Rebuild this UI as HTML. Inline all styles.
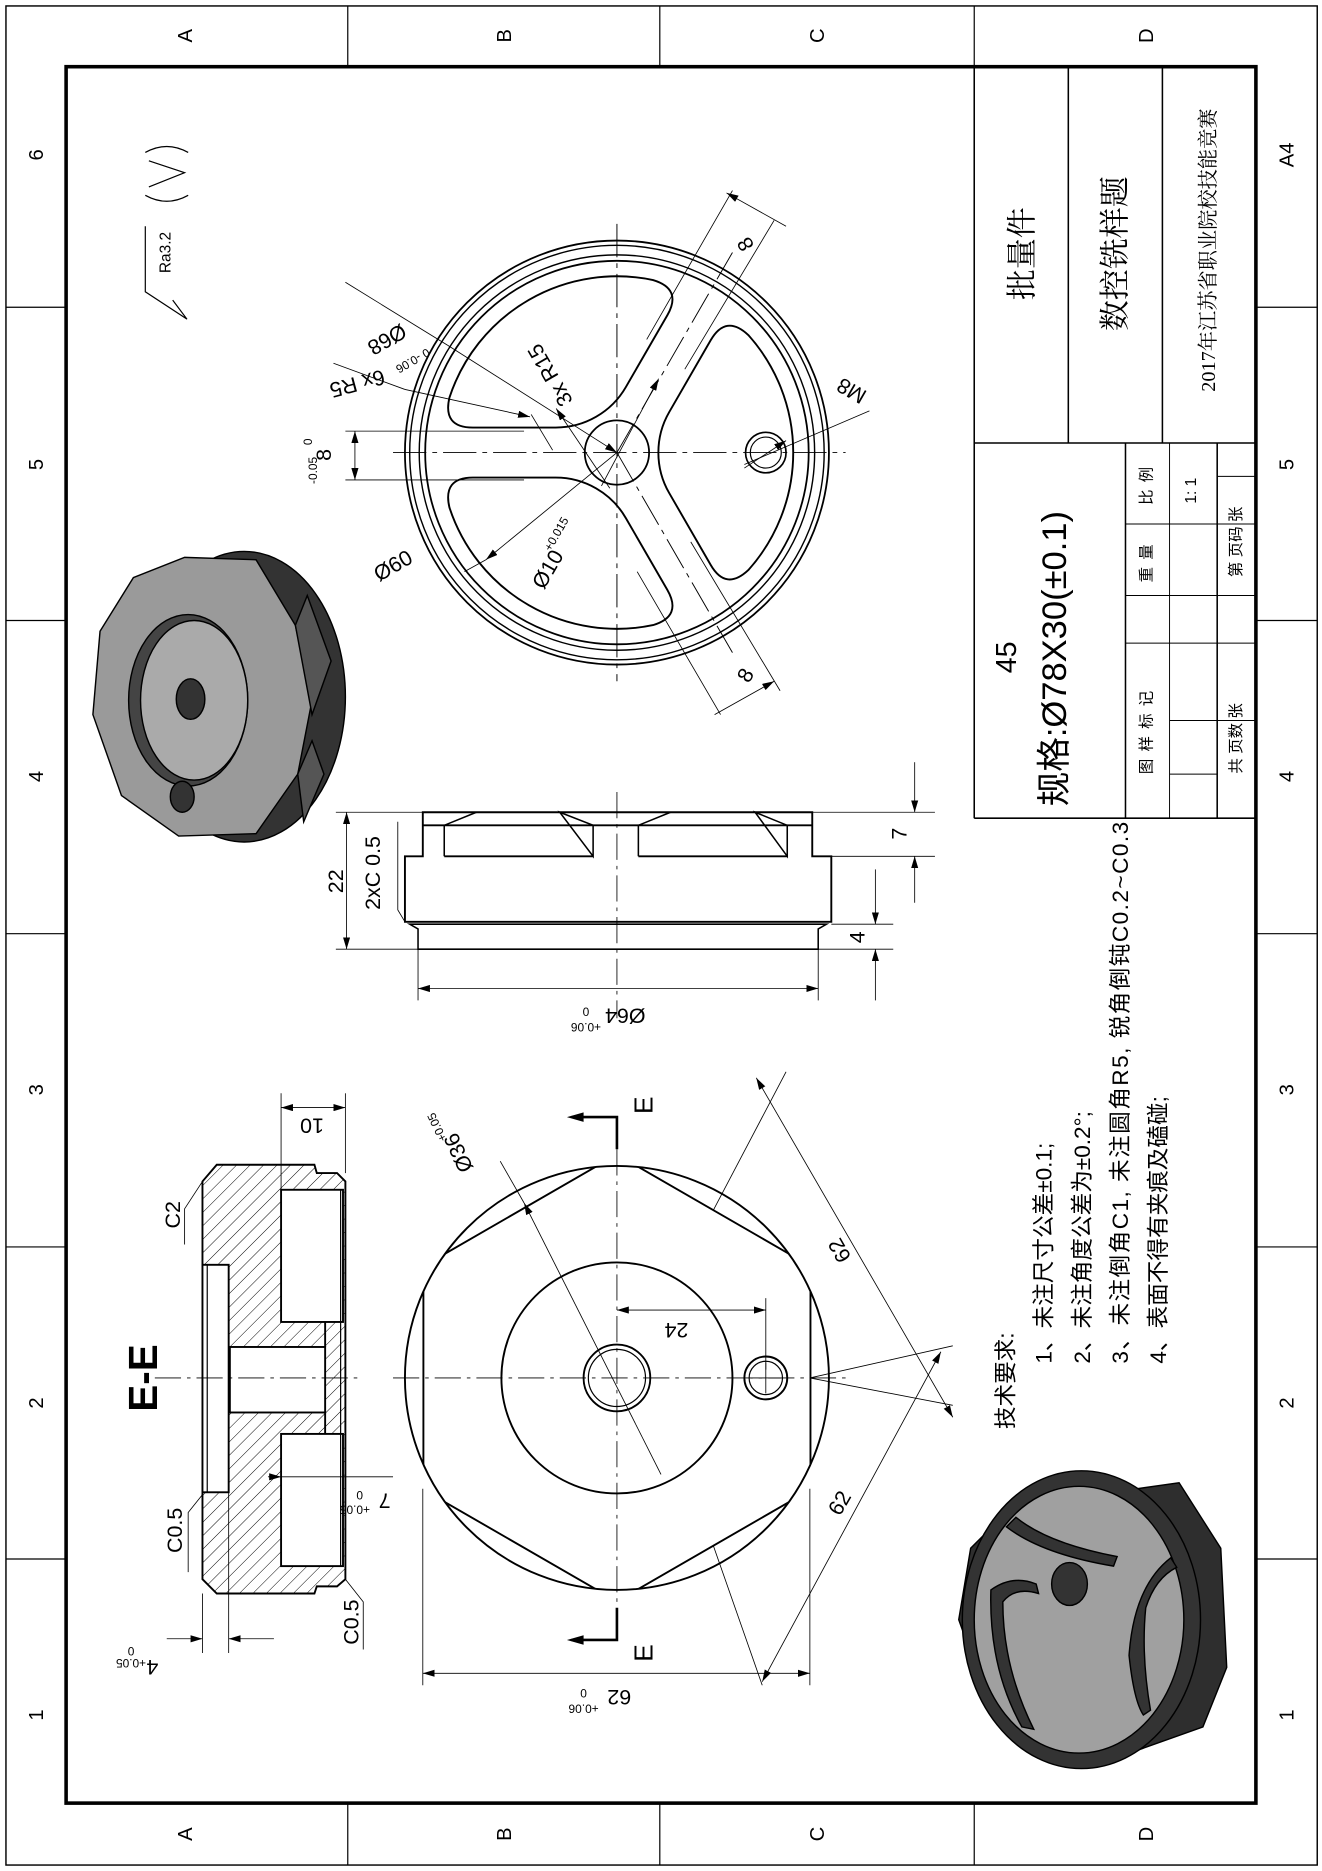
<!DOCTYPE html>
<html><head><meta charset="utf-8"><style>
html,body{margin:0;padding:0;background:#fff;}
svg{display:block;}
text{font-family:"Liberation Sans","Noto Sans CJK SC",sans-serif;fill:#000;}
.s{font-family:"Liberation Serif","Noto Serif CJK SC","Noto Sans CJK SC",serif;}
</style></head><body>
<svg width="1322" height="1871" viewBox="0 0 1110 1571" preserveAspectRatio="none" xmlns="http://www.w3.org/2000/svg">
<defs>
<pattern id="h" width="8" height="8" patternUnits="userSpaceOnUse" patternTransform="rotate(45)">
<line x1="0" y1="0" x2="0" y2="8" stroke="#000" stroke-width="0.8"/></pattern>
<clipPath id="cc"><circle cx="518" cy="1157" r="178"/></clipPath>
<marker id="a" viewBox="0 0 10 6" refX="10" refY="3" markerWidth="10" markerHeight="6" orient="auto-start-reverse" markerUnits="userSpaceOnUse"><path d="M0,0 L10,3 L0,6Z" fill="#000"/></marker>
</defs>
<rect width="1110" height="1571" fill="#fff"/>
<!-- frames -->
<rect x="5" y="5" width="1101" height="1561" fill="none" stroke="#000" stroke-width="1.2"/>
<rect x="55.5" y="56" width="999" height="1458" fill="none" stroke="#000" stroke-width="3"/>
<g stroke="#000" stroke-width="1">
<line x1="292" y1="5" x2="292" y2="56"/><line x1="554" y1="5" x2="554" y2="56"/><line x1="818" y1="5" x2="818" y2="56"/>
<line x1="292" y1="1514" x2="292" y2="1566"/><line x1="554" y1="1514" x2="554" y2="1566"/><line x1="818" y1="1514" x2="818" y2="1566"/>
<line x1="5" y1="258" x2="55" y2="258"/><line x1="5" y1="521" x2="55" y2="521"/><line x1="5" y1="784" x2="55" y2="784"/><line x1="5" y1="1047" x2="55" y2="1047"/><line x1="5" y1="1309" x2="55" y2="1309"/>
<line x1="1055" y1="258" x2="1106" y2="258"/><line x1="1055" y1="521" x2="1106" y2="521"/><line x1="1055" y1="784" x2="1106" y2="784"/><line x1="1055" y1="1047" x2="1106" y2="1047"/><line x1="1055" y1="1309" x2="1106" y2="1309"/>
</g>
<g font-size="17" text-anchor="middle">
<text transform="translate(155,30) rotate(-90)" dy="6">A</text><text transform="translate(423,30) rotate(-90)" dy="6">B</text><text transform="translate(686,30) rotate(-90)" dy="6">C</text><text transform="translate(962,30) rotate(-90)" dy="6">D</text>
<text transform="translate(155,1540) rotate(-90)" dy="6">A</text><text transform="translate(423,1540) rotate(-90)" dy="6">B</text><text transform="translate(686,1540) rotate(-90)" dy="6">C</text><text transform="translate(962,1540) rotate(-90)" dy="6">D</text>
<text transform="translate(30,130) rotate(-90)" dy="6">6</text><text transform="translate(30,390) rotate(-90)" dy="6">5</text><text transform="translate(30,652) rotate(-90)" dy="6">4</text><text transform="translate(30,915) rotate(-90)" dy="6">3</text><text transform="translate(30,1178) rotate(-90)" dy="6">2</text><text transform="translate(30,1440) rotate(-90)" dy="6">1</text>
<text transform="translate(1080,390) rotate(-90)" dy="6">5</text><text transform="translate(1080,652) rotate(-90)" dy="6">4</text><text transform="translate(1080,915) rotate(-90)" dy="6">3</text><text transform="translate(1080,1178) rotate(-90)" dy="6">2</text><text transform="translate(1080,1440) rotate(-90)" dy="6">1</text>
<text transform="translate(1080,130) rotate(-90)" dy="6">A4</text>
</g>
<!-- title block -->
<g stroke="#000" stroke-width="1.3" fill="none">
<line x1="818" y1="56" x2="818" y2="687"/><line x1="818" y1="687" x2="1055" y2="687"/>
<line x1="897" y1="56" x2="897" y2="372"/><line x1="976" y1="56" x2="976" y2="372"/>
<line x1="818" y1="372" x2="1055" y2="372"/>
<line x1="945" y1="372" x2="945" y2="687"/><line x1="1022" y1="372" x2="1022" y2="687"/>
</g>
<g stroke="#000" stroke-width="0.8">
<line x1="982" y1="372" x2="982" y2="687"/>
<line x1="945" y1="440" x2="1022" y2="440"/><line x1="945" y1="540" x2="1022" y2="540"/>
<line x1="945" y1="500" x2="1055" y2="500"/><line x1="1022" y1="400" x2="1055" y2="400"/>
<line x1="1022" y1="540" x2="1055" y2="540"/><line x1="1022" y1="605" x2="1055" y2="605"/>
<line x1="982" y1="605" x2="1022" y2="605"/><line x1="982" y1="650" x2="1022" y2="650"/>
<line x1="1022" y1="440" x2="1055" y2="440"/>
</g>
<g text-anchor="middle">
<text transform="translate(858,213) rotate(-90)" font-size="26" dy="9" class="s">批量件</text>
<text transform="translate(936,213) rotate(-90)" font-size="26" dy="9" class="s">数控铣样题</text>
<text transform="translate(1014,210) rotate(-90)" font-size="17" dy="6" class="s">2017年江苏省职业院校技能竞赛</text>
<text transform="translate(845,552) rotate(-90)" font-size="24" dy="8">45</text>
<text transform="translate(885,553) rotate(-90)" font-size="29" dy="10">规格:Ø78X30(±0.1)</text>
<g font-size="13" class="s">
<text transform="translate(963,612) rotate(-90)" dy="4" letter-spacing="6">图样标记</text>
<text transform="translate(963,470) rotate(-90)" dy="4" letter-spacing="6">重量</text>
<text transform="translate(963,405) rotate(-90)" dy="4" letter-spacing="6">比例</text>
<text transform="translate(1000,412) rotate(-90)" dy="4">1: 1</text>
<text transform="translate(1038,620) rotate(-90)" dy="4">共 页数 张</text>
<text transform="translate(1038,455) rotate(-90)" dy="4">第 页码 张</text>
</g>
</g>
<!-- roughness -->
<g stroke="#000" stroke-width="1" fill="none">
<polyline points="122,190 122,245 157,268 145,252"/>
<path d="M122,128 Q140,118 158,128 M122,164 Q140,174 158,164 M125,135 L155,145 L125,157"/>
</g>
<text transform="translate(139,212) rotate(-90)" font-size="13" text-anchor="middle" dy="4">Ra3.2</text>
<!-- 3D top-left -->
<g stroke="#000" stroke-width="1.2">
<ellipse cx="205" cy="585" rx="85" ry="122" fill="#333"/>
<polygon points="155,468 215,470 248,525 262,588 250,650 215,700 150,702 102,668 78,600 84,530 112,485" fill="#9a9a9a"/>
<path d="M248,525 L258,500 L278,555 L262,600 Z M250,650 L262,622 L272,650 L255,690 Z" fill="#555"/>
<ellipse cx="158" cy="588" rx="50" ry="72" fill="#444"/>
<ellipse cx="163" cy="588" rx="45" ry="67" fill="#aaa"/>
<ellipse cx="160" cy="587" rx="12" ry="17" fill="#333"/>
<ellipse cx="153" cy="669" rx="10" ry="13" fill="#333"/>
</g>
<!-- 3D bottom-right -->
<g stroke="#000" stroke-width="1.2">
<path d="M850,1265 L990,1245 L1025,1300 L1030,1400 L1010,1450 L940,1475 L880,1470 L830,1430 L805,1360 L815,1300 Z" fill="#2e2e2e"/>
<ellipse cx="908" cy="1360" rx="100" ry="125" fill="#333"/>
<ellipse cx="906" cy="1360" rx="88" ry="112" fill="#a0a0a0"/>
<path d="M845,1282 Q875,1305 935,1315 L938,1307 Q880,1296 853,1274 Z" fill="#333"/>
<path d="M832,1335 Q850,1322 870,1330 L872,1338 Q852,1332 842,1345 Q842,1400 868,1452 L858,1450 Q830,1400 832,1335 Z" fill="#333"/>
<path d="M983,1308 Q952,1332 948,1390 Q952,1428 960,1440 L966,1436 Q958,1390 962,1350 Q970,1325 988,1316 Z" fill="#333"/>
<ellipse cx="898" cy="1330" rx="15" ry="18" fill="#333"/>
</g>
<!-- TOP VIEW -->
<g stroke="#000" fill="none">
<circle cx="518" cy="380" r="178" stroke-width="1.5"/>
<circle cx="518" cy="380" r="174" stroke-width="1.2"/>
<circle cx="518" cy="380" r="166" stroke-width="1.2"/>
<circle cx="518" cy="380" r="161" stroke-width="1.5"/>
<circle cx="518" cy="380" r="27" stroke-width="1.5"/>
<g transform="translate(518 380)" stroke-width="1.6">
<path d="M43.9,-34 L78.7,-94.3 Q91.5,-116.4 110.3,-98.7 A148,148 0 0 1 110.3,98.7 Q91.5,116.4 78.7,94.3 L43.9,34 A68,68 0 0 1 43.9,-34 Z"/>
<path transform="rotate(120)" d="M43.9,-34 L78.7,-94.3 Q91.5,-116.4 110.3,-98.7 A148,148 0 0 1 110.3,98.7 Q91.5,116.4 78.7,94.3 L43.9,34 A68,68 0 0 1 43.9,-34 Z"/>
<path transform="rotate(240)" d="M43.9,-34 L78.7,-94.3 Q91.5,-116.4 110.3,-98.7 A148,148 0 0 1 110.3,98.7 Q91.5,116.4 78.7,94.3 L43.9,34 A68,68 0 0 1 43.9,-34 Z"/>
</g>
<circle cx="643" cy="380" r="17" stroke-width="1.4"/><circle cx="643" cy="380" r="13" stroke-width="1"/>
<g stroke-width="0.8" stroke-dasharray="28,5,4,5">
<line x1="518" y1="188" x2="518" y2="572"/><line x1="330" y1="380" x2="710" y2="380"/>
<line x1="518" y1="380" x2="615" y2="212"/><line x1="518" y1="380" x2="615" y2="548"/>
</g>
<g stroke-width="0.7">
<line x1="290" y1="362" x2="440" y2="362"/><line x1="290" y1="403" x2="440" y2="403"/>
<line x1="298" y1="362" x2="298" y2="403" marker-start="url(#a)" marker-end="url(#a)"/>
<line x1="376" y1="290" x2="518" y2="380" marker-end="url(#a)"/><line x1="376" y1="290" x2="290" y2="237"/>
<line x1="340" y1="327" x2="445" y2="350" marker-end="url(#a)"/><line x1="340" y1="327" x2="280" y2="305"/>
<line x1="467" y1="343" x2="512" y2="410" marker-start="url(#a)"/>
<line x1="553" y1="318" x2="505" y2="408" marker-start="url(#a)"/>
<line x1="408" y1="470" x2="518" y2="380" marker-start="url(#a)"/><line x1="408" y1="470" x2="390" y2="480"/>
<line x1="446" y1="348" x2="464" y2="378"/>
<line x1="610" y1="162" x2="660" y2="190" marker-start="url(#a)"/><line x1="650" y1="185" x2="575" y2="310"/><line x1="615" y1="160" x2="543" y2="285"/>
<line x1="600" y1="600" x2="650" y2="572" marker-end="url(#a)"/><line x1="655" y1="580" x2="580" y2="455"/><line x1="605" y1="600" x2="535" y2="480"/>
<line x1="625" y1="390" x2="730" y2="345"/>
<line x1="625" y1="393" x2="660" y2="370" marker-end="url(#a)"/>
</g>
</g>
<g font-size="18" text-anchor="middle">
<text transform="translate(325,285) rotate(150)" dy="6">Ø68</text>
<text transform="translate(345,300) rotate(150)" font-size="10">0  -0.06</text>
<text transform="translate(300,322) rotate(165)" dy="6">6x R5</text>
<text transform="translate(462,315) rotate(-120)" dy="6">3x R15</text>
<text transform="translate(272,382) rotate(-90)" dy="6">8</text>
<text transform="translate(266,395) rotate(-90)" font-size="10">-0.05</text>
<text transform="translate(262,371) rotate(-90)" font-size="10">0</text>
<text transform="translate(330,475) rotate(-30)" dy="6">Ø60</text>
<text transform="translate(460,478) rotate(-60)" dy="6">Ø10</text>
<text transform="translate(470,450) rotate(-60)" font-size="10">+0.015</text>
<text transform="translate(715,328) rotate(-150)" dy="6">M8</text>
<text transform="translate(626,205) rotate(-120)" dy="6">8</text>
<text transform="translate(626,567) rotate(-60)" dy="6">8</text>
</g>
<!-- SIDE VIEW -->
<g stroke="#000" fill="none" stroke-width="1.6">
<path d="M355,682 L682,682 L682,719 L698,719 L698,774 L340,774 L340,719 L355,719 Z"/>
<path d="M344,776 L694,776 L687,780 L687,797 L351,797 L351,780 Z" stroke-width="1.3"/>
<line x1="355" y1="693" x2="682" y2="693"/>
<path d="M373,719 L373,693 L400,682 M470,682 L498,693 L498,719 Z" stroke-width="1.3"/>
<line x1="373" y1="719" x2="498" y2="719"/>
<path d="M536,719 L536,693 L563,682 M634,682 L661,693 L661,719 Z" stroke-width="1.3"/>
<line x1="536" y1="719" x2="661" y2="719"/>
<line x1="498" y1="693" x2="536" y2="693" stroke-width="1"/>
</g>
<g stroke="#000" stroke-width="0.7" fill="none">
<line x1="518" y1="665" x2="518" y2="855" stroke-dasharray="22,5,3,5"/>
<line x1="282" y1="682" x2="355" y2="682"/><line x1="282" y1="797" x2="351" y2="797"/>
<line x1="291" y1="682" x2="291" y2="797" marker-start="url(#a)" marker-end="url(#a)"/>
<line x1="682" y1="682" x2="785" y2="682"/><line x1="698" y1="719" x2="785" y2="719"/>
<line x1="768" y1="640" x2="768" y2="682" marker-end="url(#a)"/><line x1="768" y1="719" x2="768" y2="758" marker-start="url(#a)"/>
<line x1="698" y1="776" x2="750" y2="776"/><line x1="687" y1="797" x2="750" y2="797"/>
<line x1="735" y1="730" x2="735" y2="776" marker-end="url(#a)"/><line x1="735" y1="797" x2="735" y2="840" marker-start="url(#a)"/>
<line x1="351" y1="797" x2="351" y2="840"/><line x1="687" y1="797" x2="687" y2="840"/>
<line x1="351" y1="830" x2="687" y2="830" marker-start="url(#a)" marker-end="url(#a)"/>
<polyline points="340,774 334,764 334,690"/>
</g>
<g font-size="18" text-anchor="middle">
<text transform="translate(282,740) rotate(-90)" dy="6">22</text>
<text transform="translate(313,733) rotate(-90)" dy="6">2xC 0.5</text>
<text transform="translate(755,700) rotate(-90)" dy="6">7</text>
<text transform="translate(720,787) rotate(-90)" dy="6">4</text>
<text transform="translate(525,853) rotate(180)" dy="6">Ø64</text>
<text transform="translate(492,846) rotate(180)" font-size="10">0</text>
<text transform="translate(492,859) rotate(180)" font-size="10">+0.06</text>
</g>
<!-- SECTION E-E -->
<g stroke="#000" stroke-width="1.6">
<path d="M182,978 L264,978 L266,985 L283,985 L290,992 L290,1326 L283,1332 L266,1332 L264,1338 L182,1338 L170,1326 L170,992 Z" fill="url(#h)"/>
<rect x="236" y="999" width="52" height="111" fill="#fff"/>
<rect x="236" y="1204" width="52" height="111" fill="#fff"/>
<rect x="193" y="1131" width="80" height="55" fill="#fff"/>
<rect x="170" y="1062" width="22" height="191" fill="#fff"/>
<line x1="174" y1="1062" x2="174" y2="1253" stroke-width="1"/>
<line x1="273" y1="1110" x2="273" y2="1131"/><line x1="273" y1="1186" x2="273" y2="1204"/>
<line x1="286" y1="999" x2="286" y2="1315" stroke-width="1"/>
</g>
<g stroke="#000" stroke-width="0.7" fill="none">
<line x1="130" y1="1157" x2="300" y2="1157" stroke-dasharray="22,5,3,5"/>
<line x1="236" y1="918" x2="236" y2="999"/><line x1="290" y1="918" x2="290" y2="985"/>
<line x1="236" y1="930" x2="290" y2="930" marker-start="url(#a)" marker-end="url(#a)"/>
<polyline points="170,992 155,1015 155,1045"/>
<polyline points="170,1255 158,1270 158,1320"/>
<polyline points="290,1326 305,1345 305,1385"/>
<line x1="170" y1="1338" x2="170" y2="1388"/><line x1="192" y1="1253" x2="192" y2="1388"/>
<line x1="140" y1="1376" x2="170" y2="1376" marker-end="url(#a)"/><line x1="192" y1="1376" x2="230" y2="1376" marker-start="url(#a)"/>
<line x1="225" y1="1240" x2="236" y2="1240" marker-end="url(#a)"/><line x1="236" y1="1240" x2="330" y2="1240"/>
</g>
<g font-size="18" text-anchor="middle">
<text transform="translate(262,945) rotate(180)" dy="6">10</text>
<text transform="translate(145,1020) rotate(-90)" dy="6">C2</text>
<text transform="translate(147,1285) rotate(-90)" dy="6">C0.5</text>
<text transform="translate(295,1362) rotate(-90)" dy="6">C0.5</text>
<text transform="translate(128,1400) rotate(180)" dy="6">4</text>
<text transform="translate(110,1393) rotate(180)" font-size="10">+0.05</text>
<text transform="translate(110,1383) rotate(180)" font-size="10">0</text>
<text transform="translate(323,1260) rotate(180)" dy="6">7</text>
<text transform="translate(302,1252) rotate(180)" font-size="10">0</text>
<text transform="translate(298,1264) rotate(180)" font-size="10">+0.05</text>
<text transform="translate(120,1157) rotate(-90)" font-size="34" font-weight="bold" dy="12">E-E</text>
</g>
<!-- BOTTOM VIEW -->
<g stroke="#000" fill="none" stroke-width="1.6">
<circle cx="518" cy="1157" r="178"/>
<g clip-path="url(#cc)">
<polygon points="518,969.4 680.5,1063.2 680.5,1250.8 518,1344.6 355.5,1250.8 355.5,1063.2"/>
</g>
<circle cx="518" cy="1157" r="97"/>
<circle cx="518" cy="1157" r="28"/><circle cx="518" cy="1157" r="24" stroke-width="1"/>
<circle cx="643" cy="1157" r="18"/><circle cx="643" cy="1157" r="14" stroke-width="1"/>
</g>
<g stroke="#000" stroke-width="0.7" fill="none">
<line x1="518" y1="965" x2="518" y2="1350" stroke-dasharray="22,5,3,5"/>
<line x1="330" y1="1157" x2="710" y2="1157" stroke-dasharray="22,5,3,5"/>
<line x1="630" y1="1157" x2="656" y2="1157"/><line x1="643" y1="1144" x2="643" y2="1170"/>
<line x1="643" y1="1090" x2="643" y2="1150"/>
<line x1="518" y1="1100" x2="643" y2="1100" marker-start="url(#a)" marker-end="url(#a)"/>
<line x1="440" y1="1010" x2="555" y2="1238" marker-start="url(#a)"/><line x1="440" y1="1010" x2="420" y2="975"/>
<line x1="355" y1="1250" x2="355" y2="1415"/><line x1="680" y1="1250" x2="680" y2="1415"/>
<line x1="355" y1="1405" x2="680" y2="1405" marker-start="url(#a)" marker-end="url(#a)"/>
<line x1="599" y1="1016" x2="660" y2="900"/><line x1="680" y1="1157" x2="800" y2="1130"/>
<line x1="635" y1="905" x2="800" y2="1190" marker-start="url(#a)" marker-end="url(#a)"/>
<line x1="599" y1="1298" x2="640" y2="1415"/><line x1="680" y1="1157" x2="800" y2="1180"/>
<line x1="640" y1="1412" x2="790" y2="1135" marker-start="url(#a)" marker-end="url(#a)"/>
</g>
<g stroke="#000" stroke-width="2.2" fill="none">
<polyline points="518,965 518,938 480,938"/><polyline points="518,1350 518,1377 480,1377"/>
</g>
<path d="M476,938 L490,934 L490,942Z M476,1377 L490,1373 L490,1381Z" fill="#000"/>
<g font-size="22" text-anchor="middle">
<text transform="translate(540,928) rotate(-90)" dy="8">E</text>
<text transform="translate(540,1388) rotate(-90)" dy="8">E</text>
</g>
<g font-size="18" text-anchor="middle">
<text transform="translate(568,1117) rotate(180)" dy="6">24</text>
<text transform="translate(385,968) rotate(-115)" dy="6">Ø36</text>
<text transform="translate(370,945) rotate(-115)" font-size="10">+0.05</text>
<text transform="translate(705,1050) rotate(-120)" dy="6">62</text>
<text transform="translate(705,1262) rotate(-60)" dy="6">62</text>
<text transform="translate(520,1425) rotate(180)" dy="6">62</text>
<text transform="translate(490,1418) rotate(180)" font-size="10">0</text>
<text transform="translate(490,1431) rotate(180)" font-size="10">+0.06</text>
</g>
<!-- tech requirements -->
<g font-size="19" class="s">
<text transform="translate(851,1200) rotate(-90)">技术要求:</text>
<text transform="translate(883,1145) rotate(-90)">1、未注尺寸公差±0.1;</text>
<text transform="translate(915,1145) rotate(-90)">2、未注角度公差为±0.2°;</text>
<text transform="translate(947,1145) rotate(-90)" textLength="455">3、未注倒角C1, 未注圆角R5, 锐角倒钝C0.2~C0.3</text>
<text transform="translate(979,1145) rotate(-90)">4、表面不得有夹痕及磕碰;</text>
</g>
</svg>
</body></html>
